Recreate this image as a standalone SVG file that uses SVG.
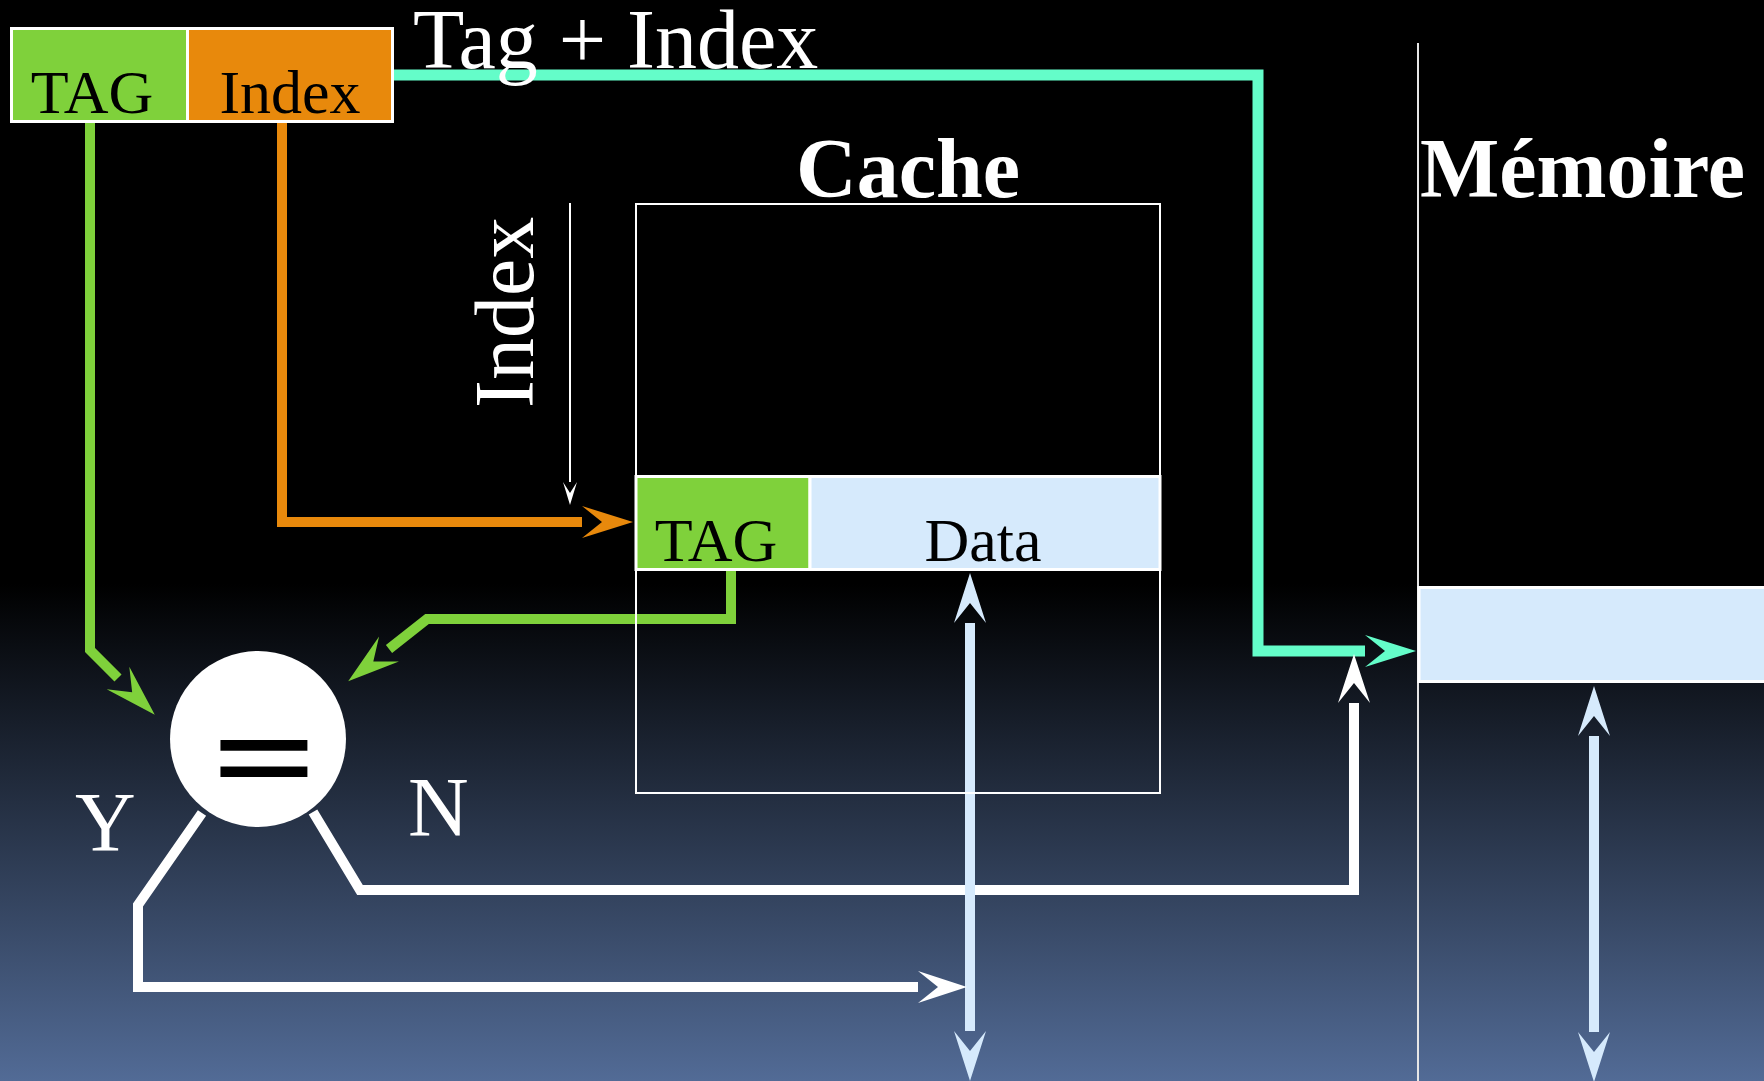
<svg xmlns="http://www.w3.org/2000/svg" width="1764" height="1081" viewBox="0 0 1764 1081">
<style>
.t{font-family:"Liberation Serif","Times New Roman",serif;}
.lbl{font-family:"Liberation Serif","Times New Roman",serif;font-size:62px;fill:#000;}
.wt{font-family:"Liberation Serif","Times New Roman",serif;fill:#fff;font-size:84px;}
.bold{font-weight:bold;}
.conn{fill:none;stroke-linejoin:miter;stroke-linecap:butt;}
</style>
<defs>
<linearGradient id="bg" x1="0" y1="0" x2="0" y2="1">
<stop offset="0" stop-color="#000"/>
<stop offset="0.54" stop-color="#000"/>
<stop offset="1" stop-color="#526b96"/>
</linearGradient>
<marker id="aG" markerUnits="userSpaceOnUse" orient="auto" markerWidth="60" markerHeight="40" refX="0" refY="20" viewBox="0 0 60 40" overflow="visible"><path d="M0,4 L52,20 L0,36 L20,20 Z" fill="#7fd13b"/></marker>
<marker id="aO" markerUnits="userSpaceOnUse" orient="auto" markerWidth="60" markerHeight="40" refX="0" refY="20" viewBox="0 0 60 40" overflow="visible"><path d="M0,4 L51,20 L0,36 L20,20 Z" fill="#e8890c"/></marker>
<marker id="aT" markerUnits="userSpaceOnUse" orient="auto" markerWidth="60" markerHeight="40" refX="0" refY="20" viewBox="0 0 60 40" overflow="visible"><path d="M0,4 L51,20 L0,36 L20,20 Z" fill="#64fdc9"/></marker>
<marker id="aW" markerUnits="userSpaceOnUse" orient="auto-start-reverse" markerWidth="60" markerHeight="40" refX="0" refY="20" viewBox="0 0 60 40" overflow="visible"><path d="M0,4 L49,20 L0,36 L20,20 Z" fill="#fff"/></marker>
<marker id="aB" markerUnits="userSpaceOnUse" orient="auto-start-reverse" markerWidth="60" markerHeight="40" refX="0" refY="20" viewBox="0 0 60 40" overflow="visible"><path d="M0,4 L50,20 L0,36 L20,20 Z" fill="#d6eafc"/></marker>
<marker id="aS" markerUnits="userSpaceOnUse" orient="auto" markerWidth="30" markerHeight="20" refX="0" refY="10" viewBox="0 0 30 20" overflow="visible"><path d="M0,3 L23,10 L0,17 L11,10 Z" fill="#fff"/></marker>
</defs>
<rect x="0" y="0" width="1764" height="1081" fill="url(#bg)"/>

<g id="connectors">
<polyline class="conn" points="394,75 1258,75 1258,651 1365,651" stroke="#64fdc9" stroke-width="11" marker-end="url(#aT)"/>
<polyline class="conn" points="90,123 90,650 118,678" stroke="#7fd13b" stroke-width="10" marker-end="url(#aG)"/>
<polyline class="conn" points="282,123 282,522 582,522" stroke="#e8890c" stroke-width="10" marker-end="url(#aO)"/>
<polyline class="conn" points="731,570 731,619 427,619 389,649" stroke="#7fd13b" stroke-width="10" marker-end="url(#aG)"/>
<line class="conn" x1="570" y1="203" x2="570" y2="482" stroke="#fff" stroke-width="2" marker-end="url(#aS)"/>
<polyline class="conn" points="313,812 360,890 1354,890 1354,703" stroke="#fff" stroke-width="10" marker-end="url(#aW)"/>
<line class="conn" x1="970" y1="623" x2="970" y2="1031" stroke="#d6eafc" stroke-width="10" marker-start="url(#aB)" marker-end="url(#aB)"/>
<polyline class="conn" points="202,813 138,905 138,987 918,987" stroke="#fff" stroke-width="10" marker-end="url(#aW)"/>
<line class="conn" x1="1594" y1="736" x2="1594" y2="1032" stroke="#d6eafc" stroke-width="10" marker-start="url(#aB)" marker-end="url(#aB)"/>
</g>

<g id="address">
<rect x="11.5" y="28.5" width="176" height="93" fill="#7fd13b" stroke="#fff" stroke-width="3"/>
<rect x="187.5" y="28.5" width="205" height="93" fill="#e8890c" stroke="#fff" stroke-width="3"/>
<text class="lbl" x="92" y="113" text-anchor="middle">TAG</text>
<text class="lbl" x="290" y="113" text-anchor="middle">Index</text>
</g>

<g id="tag-index-label">
<text class="wt" x="413" y="68">Tag + Index</text>
</g>

<g id="cache">
<text class="wt bold" x="908" y="197" text-anchor="middle">Cache</text>
<rect x="636" y="204" width="524" height="589" fill="none" stroke="#fff" stroke-width="2"/>
<rect x="636" y="476.5" width="174" height="93" fill="#7fd13b" stroke="#fff" stroke-width="3"/>
<rect x="810" y="476.5" width="350" height="93" fill="#d6eafc" stroke="#fff" stroke-width="3"/>
<text class="lbl" x="716" y="561" text-anchor="middle">TAG</text>
<text class="lbl" x="983" y="561" text-anchor="middle">Data</text>
</g>

<g id="index-label">
<text class="wt" transform="translate(533,408) rotate(-90)" font-size="86">Index</text>
</g>

<g id="memory">
<line x1="1418" y1="43" x2="1418" y2="1081" stroke="#e6e6e6" stroke-width="2"/>
<text class="wt bold" x="1420" y="197">Mémoire</text>
<rect x="1419" y="587.5" width="350" height="94" fill="#d6eafc" stroke="#fff" stroke-width="3"/>
</g>

<g id="comparator">
<circle cx="258" cy="739" r="88" fill="#fff"/>
<text transform="translate(264,790.5) scale(1.02,0.58)" x="0" y="0" text-anchor="middle" font-family="Liberation Sans, Arial, sans-serif" font-weight="bold" font-size="170" fill="#000">=</text>
</g>

<g id="labels">
<text class="wt" x="75" y="851">Y</text>
<text class="wt" x="408" y="836">N</text>
</g>
</svg>
